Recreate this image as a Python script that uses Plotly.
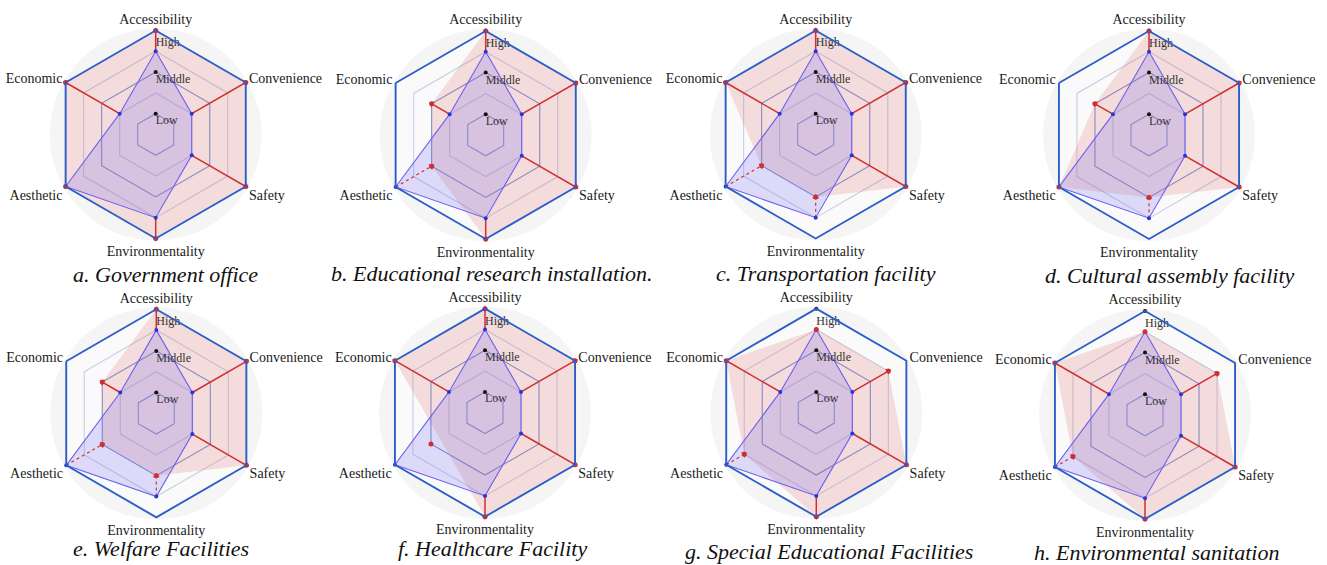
import plotly.graph_objects as go

W, H = 1327, 565

# Evaluation criteria, clockwise from the top
categories = ["Accessibility", "Convenience", "Safety",
              "Environmentality", "Aesthetic", "Economic"]

# Current level (same for every facility type)
current_level = [4, 2, 2, 4, 5, 2]

# Target level for each facility type
target_gov = [5, 5, 5, 5, 5, 5]
target_edu = [5, 5, 5, 5, 3, 3]
target_trans = [5, 5, 5, 3, 3, 5]
target_culture = [5, 5, 5, 3, 5, 3]
target_welfare = [5, 5, 5, 3, 3, 3]
target_health = [5, 5, 5, 5, 3, 5]
target_special = [4, 4, 5, 5, 4, 5]
target_sanitation = [4, 4, 5, 5, 4, 5]

targets = [target_gov, target_edu, target_trans, target_culture,
           target_welfare, target_health, target_special, target_sanitation]

# Target points shown as a lone marker (not joined to the polygon/arrows)
lone_points = {5: ["Aesthetic"]}

panel_titles = ["a. Government office",
                "b. Educational research installation.",
                "c. Transportation facility",
                "d. Cultural assembly facility",
                "e. Welfare Facilities",
                "f. Healthcare Facility",
                "g. Special Educational Facilities",
                "h. Environmental sanitation"]

# Reference scale on the Accessibility axis
scale_marks = [0, 1, 3, 5]
scale_names = ["Low", "Middle", "High"]
ring_levels = [1, 2, 3, 4]

# ---- layout geometry (pixels) ----
R = 104
centers = [(155.7, 134.5), (485.7, 135), (815.7, 134.5), (1149, 135),
           (156.3, 413.3), (485, 412.7), (816.3, 412.7), (1145, 415)]
title_pos = [(165, 274), (492, 273), (826, 273), (1170, 275),
             (161, 548), (492, 548), (829, 551), (1156, 552)]

ring_colors = {1: "#7f9bd6", 2: "#c6cfe6", 3: "#7391d0", 4: "#c6cfe6"}
serif = "Liberation Serif, Times New Roman, serif"
RED = "#cf2f2f"
BLUE_LINE = "#6d5ff0"
BLUE_PT = "#2436d8"

fig = go.Figure()
shapes, annotations = [], []

for i, tgt in enumerate(targets):
    key = "polar" if i == 0 else f"polar{i + 1}"
    cx, cy = centers[i]
    lone = lone_points.get(i, [])

    # rings
    for lv in ring_levels:
        fig.add_trace(go.Scatterpolar(
            r=[lv] * (len(categories) + 1), theta=categories + categories[:1],
            mode="lines", line=dict(color=ring_colors[lv], width=1.1),
            hoverinfo="skip", subplot=key))

    # target polygon (fill only)
    poly_r = [v for c, v in zip(categories, tgt) if c not in lone]
    poly_t = [c for c in categories if c not in lone]
    fig.add_trace(go.Scatterpolar(
        r=poly_r + poly_r[:1], theta=poly_t + poly_t[:1], mode="lines",
        fill="toself", fillcolor="rgba(222,110,110,0.21)",
        line=dict(width=0), subplot=key))

    # current polygon
    fig.add_trace(go.Scatterpolar(
        r=current_level + current_level[:1], theta=categories + categories[:1],
        mode="lines", fill="toself", fillcolor="rgba(115,105,240,0.22)",
        line=dict(color=BLUE_LINE, width=1.1), subplot=key))

    # change segments: solid for increase, dotted for decrease
    up_r, up_t, dn_r, dn_t = [], [], [], []
    arr_r, arr_t, arr_a = [], [], []
    for k, c in enumerate(categories):
        a, b = current_level[k], tgt[k]
        if c in lone or a == b:
            continue
        if b > a:
            up_r += [a, b, None]; up_t += [c, c, None]
            arr_a.append(60 * k)
        else:
            dn_r += [a, b, None]; dn_t += [c, c, None]
            arr_a.append(60 * k + 180)
        arr_r.append(b); arr_t.append(c)
    if up_r:
        fig.add_trace(go.Scatterpolar(r=up_r, theta=up_t, mode="lines",
                                      line=dict(color=RED, width=1.5), subplot=key))
    if dn_r:
        fig.add_trace(go.Scatterpolar(r=dn_r, theta=dn_t, mode="lines",
                                      line=dict(color=RED, width=1.2, dash="dot"),
                                      subplot=key))

    # scale dots and labels
    fig.add_trace(go.Scatterpolar(
        r=scale_marks, theta=[categories[0]] * len(scale_marks), mode="markers",
        marker=dict(color="#111", size=4), cliponaxis=False, subplot=key))
    fig.add_trace(go.Scatterpolar(
        r=[0.64, 2.62, 4.38], theta=[categories[0]] * 3, mode="text",
        text=scale_names, textposition="middle right",
        textfont=dict(family=serif, size=12, color="#333"),
        cliponaxis=False, subplot=key))

    # current points
    fig.add_trace(go.Scatterpolar(
        r=current_level, theta=categories, mode="markers",
        marker=dict(color=BLUE_PT, size=4), cliponaxis=False, subplot=key))

    # target points and arrow heads
    fig.add_trace(go.Scatterpolar(
        r=tgt, theta=categories, mode="markers",
        marker=dict(color=RED, size=5), cliponaxis=False, subplot=key))
    if arr_r:
        fig.add_trace(go.Scatterpolar(
            r=arr_r, theta=arr_t, mode="markers",
            marker=dict(color=RED, size=6, symbol="triangle-up", angle=arr_a),
            cliponaxis=False, subplot=key))

    fig.update_layout({key: dict(
        domain=dict(x=[(cx - R) / W, (cx + R) / W],
                    y=[1 - (cy + R) / H, 1 - (cy - R) / H]),
        bgcolor="#fafafa",
        gridshape="linear",
        radialaxis=dict(range=[0, 5], visible=False),
        angularaxis=dict(rotation=90, direction="clockwise",
                         categoryorder="array", categoryarray=categories,
                         showgrid=False, showline=True, linecolor="#2c5ec6",
                         linewidth=1.9, ticks="", ticklen=0,
                         tickfont=dict(family=serif, size=14, color="#1a1a1a")),
    )})

    rc = R + 2
    shapes.append(dict(type="circle", xref="paper", yref="paper", layer="below",
                       x0=(cx - rc) / W, x1=(cx + rc) / W,
                       y0=1 - (cy + rc) / H, y1=1 - (cy - rc) / H,
                       fillcolor="#f5f5f6", line=dict(width=0)))
    tx, ty = title_pos[i]
    annotations.append(dict(text=panel_titles[i], xref="paper", yref="paper",
                            x=tx / W, y=1 - ty / H, xanchor="center",
                            yanchor="middle", showarrow=False,
                            font=dict(family=serif, size=22, color="#111",
                                      style="italic")))

fig.update_layout(width=W, height=H, margin=dict(l=0, r=0, t=0, b=0),
                  paper_bgcolor="white", showlegend=False,
                  shapes=shapes, annotations=annotations)

fig.write_html("out.html")
